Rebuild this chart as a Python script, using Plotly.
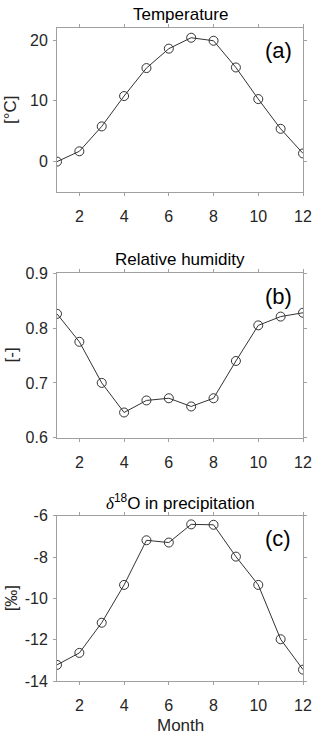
import plotly.graph_objects as go
from plotly.subplots import make_subplots

# -----------------------------
# DATA
# -----------------------------
months = [1, 2, 3, 4, 5, 6, 7, 8, 9, 10, 11, 12]
temperature = [0.0, 1.7, 5.8, 10.8, 15.4, 18.6, 20.4, 19.9, 15.5, 10.3, 5.4, 1.35]
humidity = [0.826, 0.775, 0.700, 0.646, 0.668, 0.672, 0.657, 0.672, 0.740, 0.805, 0.821, 0.828]
d18o = [-13.22, -12.64, -11.18, -9.35, -7.19, -7.30, -6.42, -6.44, -7.98, -9.35, -11.98, -13.45]

titles = ["Temperature", "Relative humidity",
          "<span style='font-family:Liberation Serif,serif'><i>δ</i></span><sup>18</sup>O in precipitation"]
ylabels = ["[°C]", "[-]", "[‰]"]
panels = ["(a)", "(b)", "(c)"]
yranges = [[-5, 22], [0.6, 0.9], [-14, -6]]
ytickvals = [[0, 10, 20], [0.6, 0.7, 0.8, 0.9], [-14, -12, -10, -8, -6]]
ytexts = [["0", "10", "20"], ["0.6", "0.7", "0.8", "0.9"], ["-14", "-12", "-10", "-8", "-6"]]

# -----------------------------
# LAYOUT (pixels)
# -----------------------------
W, H = 320, 739
x0, x1 = 57, 303
boxes = [(28, 192), (273.3, 437.7), (515.7, 681)]

fig = make_subplots(rows=3, cols=1)

font = "Liberation Sans, Arial, sans-serif"
axis_col = "#a0a0a0"
text_col = "#262626"


def note(x, y, text, size, color, angle=0):
    # pixel position -> paper coords, always centred on the point
    fig.add_annotation(x=x / W, y=1 - y / H, xref="paper", yref="paper",
                       xanchor="center", yanchor="middle", text=text,
                       showarrow=False, textangle=angle,
                       font=dict(family=font, size=size, color=color))


for i, ys in enumerate([temperature, humidity, d18o]):
    r = i + 1
    top, bot = boxes[i]
    fig.add_trace(go.Scatter(
        x=months, y=ys, mode="lines+markers",
        line=dict(color="#333333", width=1),
        marker=dict(symbol="circle-open", size=9, color="#333333", line=dict(width=1)),
        showlegend=False, hoverinfo="skip"), row=r, col=1)
    fig.update_xaxes(
        domain=[x0 / W, x1 / W], range=[1, 12], automargin=False,
        tickvals=[2, 4, 6, 8, 10, 12], ticks="outside", ticklen=3,
        ticklabelstandoff=7,
        tickcolor=axis_col, showline=True, linecolor=axis_col, mirror="ticks",
        showgrid=False, zeroline=False,
        tickfont=dict(family=font, size=16, color=text_col), row=r, col=1)
    fig.update_yaxes(
        domain=[1 - bot / H, 1 - top / H], range=yranges[i], automargin=False,
        tickvals=ytickvals[i], ticktext=ytexts[i], ticks="outside", ticklen=3,
        ticklabelstandoff=2,
        tickcolor=axis_col, showline=True, linecolor=axis_col, mirror="ticks",
        showgrid=False, zeroline=False,
        tickfont=dict(family=font, size=16, color=text_col), row=r, col=1)

    note((x0 + x1) / 2, top - 14, titles[i], 17, "black")
    note(278, top + 23, panels[i], 22, "black")
    note(11, (top + bot) / 2, ylabels[i], 17, text_col, angle=-90)

note((x0 + x1) / 2, 725, "Month", 17, text_col)

fig.update_layout(
    width=W, height=H,
    margin=dict(l=0, r=0, t=0, b=0),
    paper_bgcolor="white", plot_bgcolor="white",
)

# drop the default page margin so the figure fills the window
fig.write_html("out.html", config={"displayModeBar": False, "staticPlot": True},
               post_script="document.body.style.margin='0';document.body.style.overflow='hidden';")
